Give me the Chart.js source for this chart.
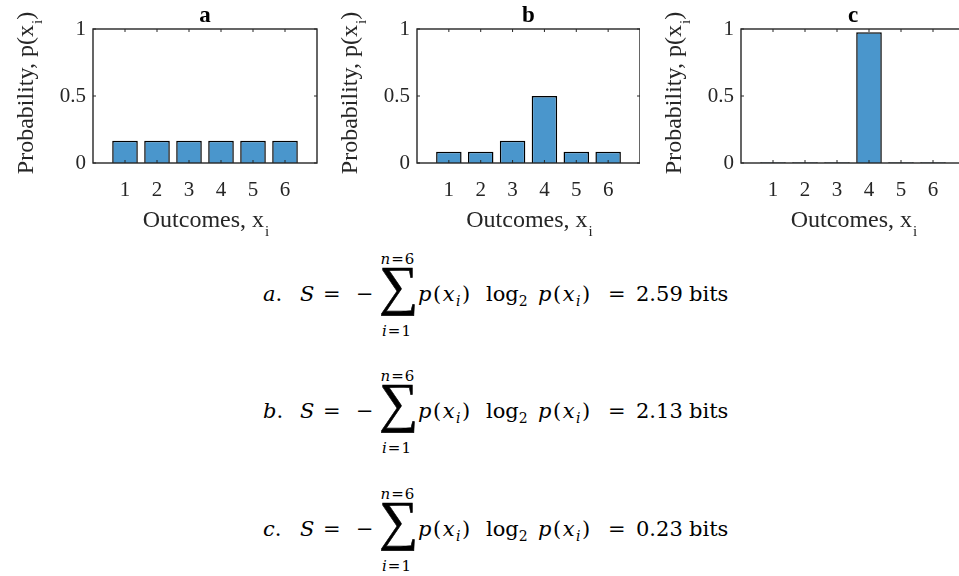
<!DOCTYPE html>
<html>
<head>
<meta charset="utf-8">
<script src="https://cdn.jsdelivr.net/npm/chart.js@4"></script>
<style>
  html, body { margin: 0; padding: 0; background: #fff; overflow: hidden; }
  body { width: 959px; height: 576px; position: relative; }
  canvas.panel { position: absolute; top: 0; }
  .eq span { position: absolute; white-space: pre; font-family: 'DejaVu Serif', serif; color: #000; }
  .eq .t { font-size: 21px; line-height: 21px; }
  .eq .m { letter-spacing: 1.5px; }
  .eq .lim { font-size: 15px; line-height: 15px; letter-spacing: 1px; transform: translateX(-50%); }
  .eq .sig { font-family: 'Liberation Serif', serif; font-size: 55px; line-height: 55px; -webkit-text-stroke: 0.6px #000; }
  .eq i { font-style: italic; }
  .eq sub { font-size: 14px; vertical-align: -5px; line-height: 0; }
</style>
</head>
<body>
<canvas class="panel" id="pa" width="320" height="240" style="left:0px"></canvas>
<canvas class="panel" id="pb" width="320" height="240" style="left:320px"></canvas>
<canvas class="panel" id="pc" width="330" height="240" style="left:640px"></canvas>
<div id="eqs"></div>

<script>
// outcomes of the die and the three probability distributions
const outcomes = [1, 2, 3, 4, 5, 6];
const probA = [0.1667, 0.1667, 0.1667, 0.1667, 0.1667, 0.1667];
const probB = [0.0833, 0.0833, 0.1667, 0.5, 0.0833, 0.0833];
const probC = [0.005, 0.005, 0.005, 0.975, 0.005, 0.005];
const yTicks = [0, 0.5, 1];
const yTickLabels = ['0', '0.5', '1'];
const panelTitles = ['a', 'b', 'c'];
// entropy shown under the panels
const entropyBits = ['2.59', '2.13', '0.23'];

const axisColor = '#262626';
const barColor = '#4a96cc';
const serif = "'Liberation Serif', serif";

// plot box inside each canvas
const areaLeft = [93, 97, 101];
const areaWidth = 224;
const areaTop = 29;
const areaBottom = 163;

// box, inward ticks, titles with subscripts
const matlabAxes = {
  id: 'matlabAxes',
  afterDraw(chart, args, opts) {
    const ctx = chart.ctx;
    const a = chart.chartArea;
    const xs = chart.scales.x, ys = chart.scales.y;
    ctx.save();
    ctx.strokeStyle = axisColor;
    ctx.lineWidth = 1.4;
    ctx.strokeRect(a.left, a.top, a.right - a.left, a.bottom - a.top);
    ctx.lineWidth = 1;
    ctx.beginPath();
    const tl = 3;
    outcomes.forEach(v => {
      const px = xs.getPixelForValue(v);
      ctx.moveTo(px, a.bottom); ctx.lineTo(px, a.bottom - tl);
      ctx.moveTo(px, a.top); ctx.lineTo(px, a.top + tl);
    });
    yTicks.forEach(v => {
      const py = ys.getPixelForValue(v);
      ctx.moveTo(a.left, py); ctx.lineTo(a.left + tl, py);
      ctx.moveTo(a.right, py); ctx.lineTo(a.right - tl, py);
    });
    ctx.stroke();

    const cx = (a.left + a.right) / 2;
    // panel title
    ctx.font = 'bold 23px ' + serif;
    ctx.textAlign = 'center';
    ctx.textBaseline = 'alphabetic';
    ctx.fillStyle = '#000';
    ctx.fillText(opts.title, cx, 22);
    ctx.fillStyle = axisColor;
    ctx.textAlign = 'left';

    // title text with a lowered small "i"
    const big = '24px ' + serif, small = '15px ' + serif;
    const drawLabel = (pre, post, x, y) => {
      ctx.font = big;
      const w1 = ctx.measureText(pre).width;
      const w3 = ctx.measureText(post).width;
      ctx.font = small;
      const w2 = ctx.measureText('i').width;
      const x0 = x - (w1 + w2 + w3 + 1) / 2;
      ctx.font = big;
      ctx.fillText(pre, x0, y);
      ctx.fillText(post, x0 + w1 + w2 + 1, y);
      ctx.font = small;
      ctx.fillText('i', x0 + w1 + 1, y + 9);
    };
    drawLabel('Outcomes, x', '', cx + 1, 227);

    ctx.translate(a.left - 60, (a.top + a.bottom) / 2 - 3);
    ctx.rotate(-Math.PI / 2);
    drawLabel('Probability, p(x', ')', 0, 0);
    ctx.restore();
  }
};

function makePanel(id, values, idx) {
  const canvas = document.getElementById(id);
  const W = canvas.width, H = canvas.height;
  const left = areaLeft[idx];
  new Chart(canvas, {
    type: 'bar',
    data: {
      datasets: [{
        data: outcomes.map((x, i) => ({ x: x, y: values[i] })),
        backgroundColor: barColor,
        borderColor: '#000',
        borderWidth: 1.5,
        categoryPercentage: 1,
        barPercentage: 0.8
      }]
    },
    options: {
      responsive: false,
      animation: false,
      layout: { padding: { top: areaTop, left: 0, right: W - left - areaWidth, bottom: 0 } },
      plugins: {
        legend: { display: false },
        tooltip: { enabled: false },
        matlabAxes: { title: panelTitles[idx] }
      },
      scales: {
        x: {
          type: 'linear',
          offset: false,
          min: 0, max: 7,
          grid: { display: false, drawTicks: false },
          border: { display: false },
          afterBuildTicks: s => { s.ticks = outcomes.map(v => ({ value: v })); },
          afterFit: s => { s.height = H - areaBottom; },
          ticks: { color: axisColor, padding: 15, font: { family: serif, size: 21 } }
        },
        y: {
          min: 0, max: 1,
          grid: { display: false, drawTicks: false },
          border: { display: false },
          afterBuildTicks: s => { s.ticks = yTicks.map(v => ({ value: v })); },
          afterFit: s => { s.width = left; },
          ticks: {
            color: axisColor, padding: 7, font: { family: serif, size: 21 },
            callback: v => yTickLabels[yTicks.indexOf(v)]
          }
        }
      }
    },
    plugins: [matlabAxes]
  });
}

makePanel('pa', probA, 0);
makePanel('pb', probB, 1);
makePanel('pc', probC, 2);

// entropy equations, one row per panel
const pxi = '<i>p</i>(<i>x<sub>i</sub></i>)';
const baselines = [302, 419, 537];
let html = '';
panelTitles.forEach((t, k) => {
  const b = baselines[k];
  const top = b - 18;
  const piece = (x, s, cls) => '<span class="t ' + (cls || '') + '" style="left:' + x + 'px;top:' + top + 'px">' + s + '</span>';
  html += '<div class="eq">' +
    piece(263, '<i>' + t + '</i>.') +
    piece(300, '<i>S</i>') +
    piece(323, '=') +
    piece(356, '−') +
    '<span class="sig" style="left:379px;top:' + (b - 44) + 'px">∑</span>' +
    '<span class="lim" style="left:398px;top:' + (b - 50) + 'px"><i>n</i>=6</span>' +
    '<span class="lim" style="left:397px;top:' + (b + 22) + 'px"><i>i</i>=1</span>' +
    piece(418, pxi, 'm') +
    piece(486, 'log<sub>2</sub>') +
    piece(538, pxi, 'm') +
    piece(608, '=') +
    piece(636, entropyBits[k]) +
    piece(689, 'bits') +
    '</div>';
});
document.getElementById('eqs').innerHTML = html;
</script>
</body>
</html>
